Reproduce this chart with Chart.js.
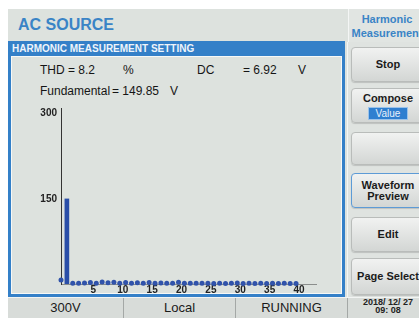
<!DOCTYPE html>
<html>
<head>
<meta charset="utf-8">
<script src="https://cdn.jsdelivr.net/npm/chart.js@4.4.1/dist/chart.umd.min.js"></script>
<style>
html, body { margin: 0; padding: 0; background: #fff; }
body { width: 419px; height: 318px; position: relative; overflow: hidden;
       font-family: "Liberation Sans", Arial, sans-serif; color: #151515; }
.abs { position: absolute; white-space: nowrap; }
#screen { left: 8px; top: 9px; width: 411px; height: 309px; background: #dde2de; }
#title { left: 18px; top: 16px; font-size: 16px; line-height: 18px; font-weight: bold; color: #3a84c6; }
#sideHead { left: 348px; top: 9px; width: 71px; height: 33px; overflow: hidden; background: #e1e5e2;
            border-left: 1px solid #f4f6f5; }
#sideHead div { width: 76px; text-align: center; font-size: 11px; line-height: 14px; font-weight: bold; color: #3a84c6; }
#band { left: 8px; top: 41px; width: 337px; height: 15px; background: #3480c8; color: #eef4fb;
        font-size: 10px; line-height: 15px; font-weight: bold; padding-left: 4px; box-sizing: border-box; }
#panel { left: 8px; top: 56px; width: 337px; height: 241px; box-sizing: border-box;
         border: 3px solid #3480c8; border-top: none; background: #dde2de; }
#panelInner { left: 11px; top: 56px; width: 331px; height: 238px; box-sizing: border-box;
              border: 1px solid #f6f8f7; }
.m { font-size: 12px; line-height: 14px; }
#side { left: 347px; top: 42px; width: 72px; height: 255px; background: #dfe3e0; border-left: 1px solid #f4f6f5; }
.btn { position: absolute; left: 351px; width: 74px; box-sizing: border-box; border-radius: 4px;
       background: linear-gradient(#f1f2f1, #d3d6d4); border: 1px solid #b9bcba;
       box-shadow: 0 1px 1px rgba(0,0,0,0.15);
       text-align: center; font-size: 11px; font-weight: bold; color: #1b1b1b; }
.btn span.v { display: inline-block; background: #2f7fd0; color: #e8f1fb; font-weight: normal;
              font-size: 10px; line-height: 11px; padding: 0 7px; margin-top: 3px; border: 1px solid #9cc3ea; }
#status { left: 8px; top: 297px; width: 411px; height: 21px; background: #d8dcd9; border-top: 1px solid #f2f4f3; }
.st { top: 300px; font-size: 13px; line-height: 16px; text-align: center; color: #1a1a1a; }
.div { width: 1px; top: 298px; height: 20px; background: #a4a8a6; }
#date { left: 348px; top: 298px; width: 80px; text-align: center; font-size: 9px; line-height: 8px;
        font-weight: bold; color: #222; }
#chart { position: absolute; left: 0; top: 0; pointer-events: none; }
</style>
</head>
<body>
<div class="abs" id="screen"></div>
<div class="abs" id="title">AC SOURCE</div>
<div class="abs" id="sideHead"><div style="margin-top:3px">Harmonic</div><div>Measurement</div></div>
<div class="abs" id="band">HARMONIC MEASUREMENT SETTING</div>
<div class="abs" id="panel"></div>
<div class="abs" id="panelInner"></div>

<div class="abs m" style="left:40px; top:63px">THD = 8.2</div>
<div class="abs m" style="left:123px; top:63px">%</div>
<div class="abs m" style="left:197px; top:63px">DC</div>
<div class="abs m" style="left:243px; top:63px">= 6.92</div>
<div class="abs m" style="left:298px; top:63px">V</div>
<div class="abs m" style="left:40px; top:84px">Fundamental</div>
<div class="abs m" style="left:112px; top:84px">= 149.85</div>
<div class="abs m" style="left:170px; top:84px">V</div>

<div class="abs" id="side"></div>
<div class="btn" style="top:47px; height:35px; line-height:33px;">Stop</div>
<div class="btn" style="top:88px; height:35px; line-height:12px; padding-top:3px;">Compose<br><span class="v">Value</span></div>
<div class="btn" style="top:132px; height:33px;"></div>
<div class="btn" style="top:173px; height:35px; line-height:11px; padding-top:6px; border:1.5px solid #5d9bd6;">Waveform<br>Preview</div>
<div class="btn" style="top:217px; height:35px; line-height:33px;">Edit</div>
<div class="btn" style="top:258px; height:37px; line-height:35px;">Page Select</div>

<div class="abs" id="status"></div>
<div class="abs div" style="left:123px"></div>
<div class="abs div" style="left:235px"></div>
<div class="abs div" style="left:347px"></div>
<div class="abs st" style="left:8px; width:115px">300V</div>
<div class="abs st" style="left:124px; width:111px">Local</div>
<div class="abs st" style="left:236px; width:111px">RUNNING</div>
<div class="abs" id="date">2018/ 12/ 27<br>09: 08</div>

<canvas id="chart" width="419" height="318"></canvas>

<script>
// Orden armónico (0 = DC) y amplitud medida en V
const harmonicOrders = [0, 1, 2, 3, 4, 5, 6, 7, 8, 9, 10,
    11, 12, 13, 14, 15, 16, 17, 18, 19, 20,
    21, 22, 23, 24, 25, 26, 27, 28, 29, 30,
    31, 32, 33, 34, 35, 36, 37, 38, 39, 40];
const harmonicVolts = [6.92, 149.85, 1.2, 1.5, 1.8, 2.5, 1.5, 3.5, 2.0, 3.0, 1.5,
    2.5, 1.2, 2.0, 1.5, 2.8, 1.2, 1.8, 1.2, 1.5, 3.0,
    1.2, 1.5, 1.2, 1.5, 1.2, 1.0, 1.2, 1.0, 1.2, 1.8,
    1.0, 1.2, 1.0, 1.5, 1.0, 1.2, 1.0, 1.2, 1.0, 1.0];
const xTickValues = [5, 10, 15, 20, 25, 30, 35, 40];
const yTickValues = [150, 300];

const fundamental = [];
const stems = [];
const dots = [];
harmonicOrders.forEach(function (n, i) {
    const p = { x: n, y: harmonicVolts[i] };
    if (n === 1) {
        fundamental.push(p);
    } else {
        dots.push(p);
        if (n > 1) stems.push(p);
    }
});

const tickFont = { family: '"Liberation Sans", Arial, sans-serif', size: 10, weight: 'bold' };

new Chart(document.getElementById('chart').getContext('2d'), {
    type: 'bar',
    data: {
        datasets: [
            { type: 'bar', data: fundamental, backgroundColor: '#2a4ea8', barThickness: 4, grouped: false },
            { type: 'bar', data: stems, backgroundColor: '#3556ad', barThickness: 1, grouped: false },
            { type: 'line', data: dots, showLine: false, clip: false,
              pointRadius: 2.5, pointBorderWidth: 0, pointBackgroundColor: '#2f52aa' }
        ]
    },
    options: {
        responsive: false,
        animation: false,
        layout: { padding: { left: 31, right: 103, top: 108, bottom: 22 } },
        plugins: { legend: { display: false }, tooltip: { enabled: false } },
        scales: {
            x: {
                type: 'linear', min: 0, max: 43.4, offset: false,
                grid: { display: false, drawTicks: false },
                border: { display: true, color: '#8b8e8c', width: 1 },
                afterBuildTicks: function (s) { s.ticks = xTickValues.map(v => ({ value: v })); },
                afterFit: function (s) { s.height = 12; },
                ticks: { font: tickFont, color: '#222', padding: 0, labelOffset: 3, maxRotation: 0, autoSkip: false }
            },
            y: {
                min: 0, max: 310,
                grid: { display: false, drawTicks: false },
                border: { display: true, color: '#333', width: 1 },
                afterBuildTicks: function (s) { s.ticks = yTickValues.map(v => ({ value: v })); },
                afterFit: function (s) { s.width = 30; },
                ticks: { font: tickFont, color: '#222', padding: 4 }
            }
        }
    }
});
</script>
</body>
</html>
